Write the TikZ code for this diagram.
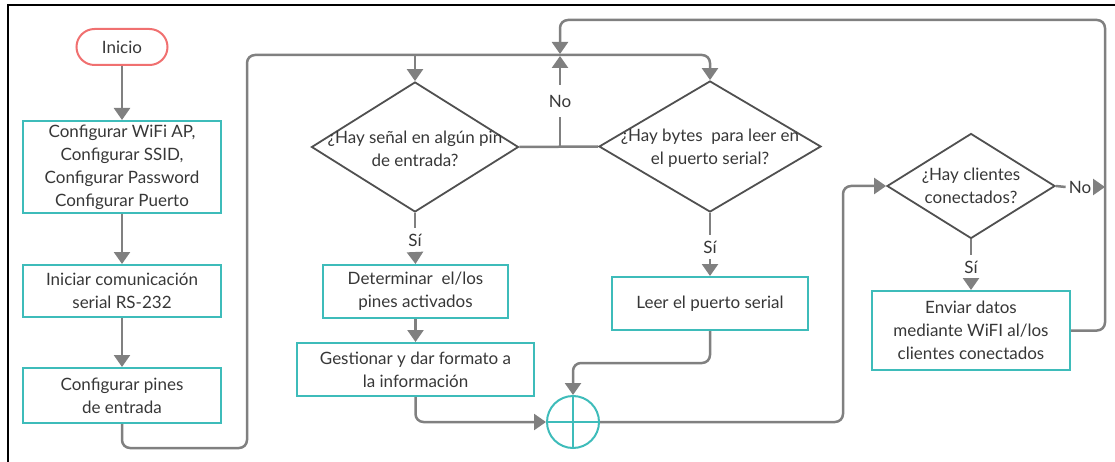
\documentclass[tikz,border=0pt]{standalone}
\usepackage{fontspec}
\setmainfont{Lato}
\usetikzlibrary{arrows.meta,shapes.geometric}

\definecolor{flowgray}{RGB}{128,128,128}
\definecolor{boxteal}{RGB}{62,188,186}
\definecolor{edgegray}{RGB}{80,80,80}
\definecolor{txtgray}{RGB}{55,55,55}
\definecolor{startred}{RGB}{240,112,112}

\begin{document}
\begin{tikzpicture}[x=1pt, y=-1pt,
	every node/.style={text=txtgray, align=center, font=\fontsize{17}{23}\selectfont},
	flow/.style={draw=flowgray, line width=2.5pt, rounded corners=8pt, -{Triangle[length=12pt,width=16pt]}},
	wire/.style={draw=flowgray, line width=2.5pt, rounded corners=8pt},
	proc/.style={rectangle, draw=boxteal, line width=2pt, inner sep=0pt},
	decide/.style={diamond, draw=edgegray, line width=1.8pt, inner sep=0pt},
	lbl/.style={inner sep=6pt}]

\def\width{1115}
\def\height{462}

\path [use as bounding box] (0,0) rectangle (\width,\height);

% FRAME
\draw [line width=2.5pt] (8,\height) -- (8,5) -- (\width,5);

% LEFT COLUMN
\node [rectangle, rounded corners=18pt, draw=startred, line width=2pt,
	minimum width=91pt, minimum height=36pt] (inicio) at (122,47) {Inicio};
\node [proc, minimum width=198pt, minimum height=92pt] (conf) at (122,167)
	{Configurar WiFi AP,\\Configurar SSID,\\Configurar Password\\Configurar Puerto};
\node [proc, minimum width=198pt, minimum height=52pt] (serial) at (122,291)
	{Iniciar comunicación\\serial RS-232};
\node [proc, minimum width=198pt, minimum height=55pt] (pines) at (122,395.5)
	{Configurar pines\\de entrada};

% DECISIONS
\node [decide, minimum width=207pt, minimum height=130pt,
	label={[inner sep=0pt, yshift=-2pt]center:{¿Hay señal en algún pin\\de entrada?}}] (pin) at (415,147) {};
\node [decide, minimum width=222pt, minimum height=131pt,
	label={[inner sep=0pt, yshift=-2pt]center:{¿Hay bytes\ \ para leer en\\el puerto serial?}}] (bytes) at (710,146.5) {};
\node [decide, minimum width=168pt, minimum height=105pt,
	label={[inner sep=0pt]center:{¿Hay clientes\\conectados?}}] (cli) at (971,186) {};

% PROCESSES
\node [proc, minimum width=185pt, minimum height=53pt] (det) at (415.5,291.5)
	{Determinar\ \ el/los\\pines activados};
\node [proc, minimum width=237pt, minimum height=53pt] (gest) at (415.5,369.5)
	{Gestionar y dar formato a\\la información};
\node [proc, minimum width=196pt, minimum height=53pt] (leer) at (710,303.5)
	{Leer el puerto serial};
\node [proc, minimum width=198pt, minimum height=79pt] (env) at (971,330.5)
	{Enviar datos\\mediante WiFI al/los\\clientes conectados};
\node [circle, draw=boxteal, line width=2pt, minimum size=52pt, inner sep=0pt] (sum) at (573,422) {};
\draw [boxteal, line width=2pt] (sum.north) -- (sum.south) (sum.west) -- (sum.east);

% LABELS
\node [lbl, inner ysep=10pt] (no1) at (560,101) {No};
\node [lbl, inner xsep=3pt] (no2) at (1080,187) {No};
\node [lbl] (si1) at (415,240) {Sí};
\node [lbl] (si2) at (710,247) {Sí};
\node [lbl] (si3) at (971,267) {Sí};

% BENDS
\coordinate (loopb) at (247,448);
\coordinate (loopt) at (247,55);
\coordinate (loopr) at (1105,20);
\coordinate (joint) at (560,54);
\coordinate (joinb) at (560,56);
\coordinate (split) at (560,147);
\coordinate (mrg) at (573,363);
\coordinate (rise) at (843,186);

% CONNECTORS
\draw [flow] (inicio) -- (conf);
\draw [flow] (conf) -- (serial);
\draw [flow] (serial) -- (pines);
\draw [flow] (pines.south) |- (loopb) -- (loopt) -| (bytes.north);
\draw [flow] (pin.north |- loopt) -- (pin.north);
\draw [wire] (pin.east) -- (bytes.west);
\draw [wire] (split) -- (no1.south);
\draw [flow] (no1.north) -- (joinb);
\draw [flow] (env.east) -| (loopr) -| (joint);
\draw [wire] (pin.south) -- (si1.north);
\draw [flow] (si1.south) -- (det.north);
\draw [flow] (det) -- (gest);
\draw [flow] (gest.south) |- (sum.west);
\draw [wire] (bytes.south) -- (si2.north);
\draw [flow] (si2.south) -- (leer.north);
\draw [flow] (leer.south) |- (mrg) -- (sum.north);
\draw [flow] (sum.east) -| (rise) -- (cli.west);
\draw [wire] (cli.east) -- (no2.west);
\draw [flow] (no2.east) -- (no2.east -| loopr);
\draw [wire] (cli.south) -- (si3.north);
\draw [flow] (si3.south) -- (env.north);

\end{tikzpicture}
\end{document}
